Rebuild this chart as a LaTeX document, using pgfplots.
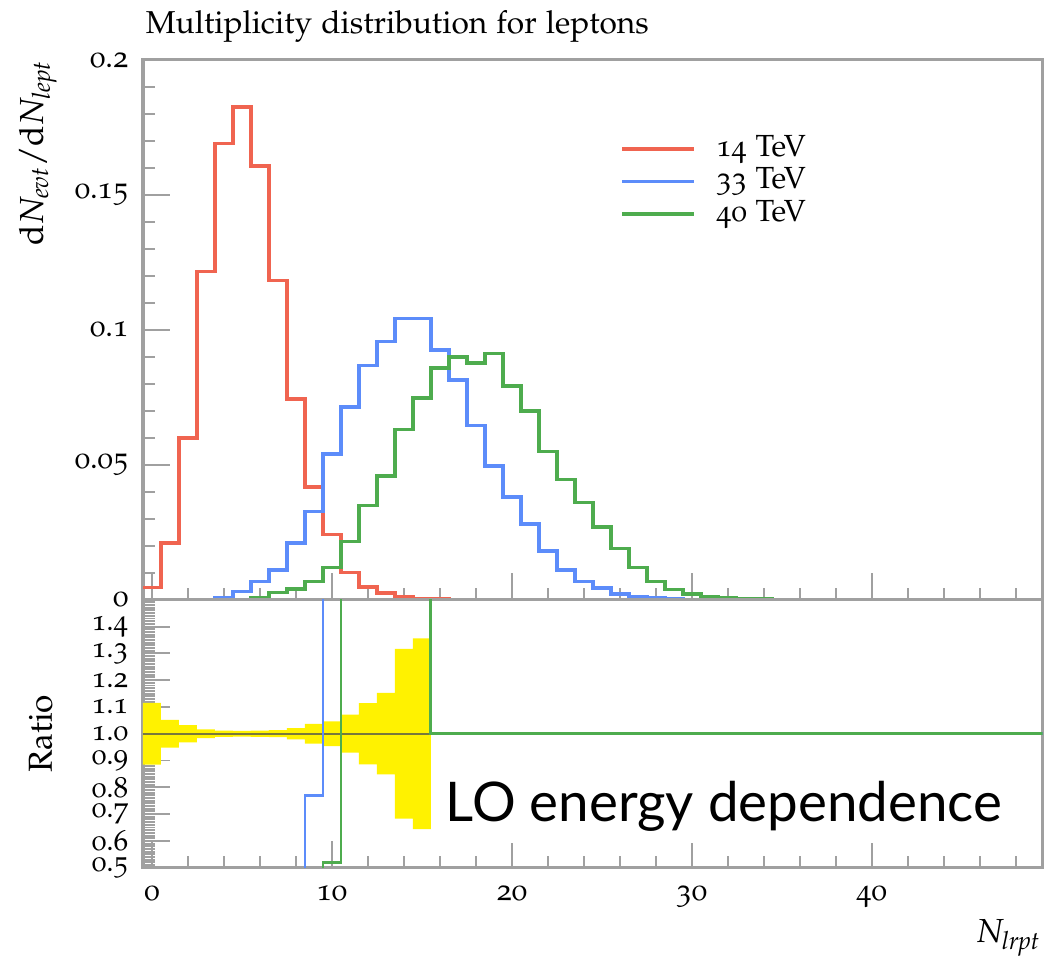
\documentclass[border=0pt]{standalone}
\usepackage[T1]{fontenc}
\usepackage[osf]{mathpazo}
\usepackage{pgfplots}
\pgfplotsset{compat=1.18}
\font\lofont="Lato" at 19.7pt
\definecolor{hred}{RGB}{240,100,80}
\definecolor{hblue}{RGB}{92,140,250}
\definecolor{hgreen}{RGB}{78,172,78}
\definecolor{axgray}{RGB}{160,160,160}
\definecolor{refline}{RGB}{120,120,60}
\begin{document}
\begin{tikzpicture}[font=\fontsize{11}{13}\selectfont]
\pgfplotsset{
  rivet/.style={
    width=324pt, scale only axis, xmin=-0.5, xmax=49.5,
    axis line style={draw=axgray, line width=1.1pt},
    every tick/.style={draw=axgray, line width=0.7pt},
    major tick length=9.7pt, minor tick length=4.3pt,
    xtick={0,10,20,30,40}, minor xtick={2,4,6,8,12,14,16,18,22,24,26,28,32,34,36,38,42,44,46,48},
    xtick pos=left, ytick pos=left, tick align=inside,
    yticklabel style={inner sep=0.5pt, xshift=-4.6pt},
    xticklabel style={yshift=-3pt},
    clip=true,
    every axis plot/.append style={line join=miter},
  }
}
\begin{axis}[rivet, name=top, height=194.4pt,
  ymin=0, ymax=0.2,
  ytick={0,0.05,0.1,0.15,0.2}, yticklabels={0,0.05,0.1,0.15,0.2},
  minor ytick={0.01,0.02,0.03,0.04,0.06,0.07,0.08,0.09,0.11,0.12,0.13,0.14,0.16,0.17,0.18,0.19},
  xticklabels={},
  legend style={at={(axis description cs:0.53,0.865)}, anchor=north west, draw=none, fill=none, inner sep=0pt, row sep=0.6pt,
    font=\fontsize{11}{13}\selectfont,
    nodes={inner sep=0.8pt, text height=7.5pt, text depth=2pt},
    /tikz/every odd column/.append style={column sep=6.5pt}},
  legend cell align=left,
  legend image code/.code={\draw[#1] (0pt,0pt) -- (26pt,0pt);},
]
\addplot[const plot mark left, hred, line width=1.25pt] coordinates {
(-0.5,0.0045)(0.5,0.021)(1.5,0.060)(2.5,0.1217)(3.5,0.169)(4.5,0.1825)(5.5,0.1607)(6.5,0.1183)(7.5,0.0744)(8.5,0.0417)(9.5,0.0242)(10.5,0.010)(11.5,0.0048)(12.5,0.0025)(13.5,0.0012)(14.5,0.0005)(15.5,0.0002)(16.5,0)(49.5,0)};
\addlegendentry{14 TeV}
\addplot[const plot mark left, hblue, line width=1.25pt] coordinates {
(-0.5,0)(3.5,0.0008)(4.5,0.003)(5.5,0.0067)(6.5,0.011)(7.5,0.021)(8.5,0.0327)(9.5,0.054)(10.5,0.0714)(11.5,0.0867)(12.5,0.0956)(13.5,0.1042)(14.5,0.1042)(15.5,0.0925)(16.5,0.0815)(17.5,0.0645)(18.5,0.0495)(19.5,0.038)(20.5,0.028)(21.5,0.018)(22.5,0.011)(23.5,0.0068)(24.5,0.0044)(25.5,0.0022)(26.5,0.0012)(27.5,0.0006)(28.5,0.0003)(29.5,0.0001)(30.5,0)(49.5,0)};
\addlegendentry{33 TeV}
\addplot[const plot mark left, hgreen, line width=1.25pt] coordinates {
(-0.5,0)(5.5,0.0008)(6.5,0.0026)(7.5,0.004)(8.5,0.0067)(9.5,0.012)(10.5,0.0216)(11.5,0.035)(12.5,0.0458)(13.5,0.063)(14.5,0.0748)(15.5,0.0858)(16.5,0.0900)(17.5,0.0878)(18.5,0.0912)(19.5,0.0792)(20.5,0.0700)(21.5,0.0550)(22.5,0.0445)(23.5,0.036)(24.5,0.027)(25.5,0.019)(26.5,0.012)(27.5,0.0068)(28.5,0.0038)(29.5,0.0022)(30.5,0.0013)(31.5,0.0008)(32.5,0.0004)(33.5,0.0002)(34.5,0)(49.5,0)};
\addlegendentry{40 TeV}
\end{axis}
\begin{axis}[rivet, name=ratio, at={(top.south west)}, anchor=north west, height=96.5pt,
  ymin=0.5, ymax=1.5,
  ytick={0.5,0.6,0.7,0.8,0.9,1.0,1.1,1.2,1.3,1.4},
  yticklabels={0.5,0.6,0.7,0.8,0.9,1.0,1.1,1.2,1.3,1.4},
  yticklabel style={font=\fontsize{10.5}{12}\selectfont},
  minor ytick={0.51,0.52,...,1.49},
  xticklabels={0,10,20,30,40},
]
\addplot[const plot mark left, fill=yellow, draw=none] coordinates {
(-0.5,1.115)(0.5,1.052)(1.5,1.032)(2.5,1.016)(3.5,1.012)(4.5,1.011)(5.5,1.012)(6.5,1.013)(7.5,1.021)(8.5,1.037)(9.5,1.046)(10.5,1.071)(11.5,1.114)(12.5,1.152)(13.5,1.317)(14.5,1.356)(15.5,1.356)
(15.5,0.644)(14.5,0.683)(13.5,0.848)(12.5,0.886)(11.5,0.929)(10.5,0.954)(9.5,0.963)(8.5,0.979)(7.5,0.987)(6.5,0.988)(5.5,0.989)(4.5,0.988)(3.5,0.984)(2.5,0.968)(1.5,0.948)(0.5,0.885)(-0.5,0.885)};
\addplot[refline, line width=0.8pt] coordinates {(-0.5,1)(15.5,1)};
\addplot[const plot mark left, hblue, line width=1pt] coordinates {(-0.5,0)(8.5,0.77)(9.5,3)(15.5,1)(49.5,1)};
\addplot[const plot mark left, hgreen, line width=1pt] coordinates {(-0.5,0)(9.5,0.52)(10.5,3)(15.5,1)(49.5,1)};
\node[fill=white, inner sep=4pt, anchor=base west, font=\lofont] at (axis cs:15.68,0.672) {LO energy dependence};
\end{axis}
\node[anchor=base west, inner sep=0pt, font=\fontsize{11.4}{13}\selectfont] at ([xshift=0.8pt, yshift=9.7pt]top.north west) {Multiplicity distribution for leptons};
\node[rotate=90, anchor=base east, inner sep=0pt, font=\fontsize{12}{14}\selectfont] at ([xshift=-36pt]top.north west) {$\mathrm{d}N_{\mathit{evt}}/\mathrm{d}N_{\mathit{lept}}$};
\node[rotate=90, anchor=base, font=\fontsize{12}{14}\selectfont] at ([xshift=-32.8pt]ratio.west) {Ratio};
\node[anchor=base east, inner sep=0pt, font=\fontsize{12}{14}\selectfont] at ([xshift=-0.5pt, yshift=-27pt]ratio.south east) {$N_{\mathit{lrpt}}$};
\pgfresetboundingbox
\path ([xshift=-51.5pt, yshift=21.6pt]top.north west) rectangle ([xshift=0.5pt, yshift=-32.4pt]ratio.south east);
\end{tikzpicture}
\end{document}
